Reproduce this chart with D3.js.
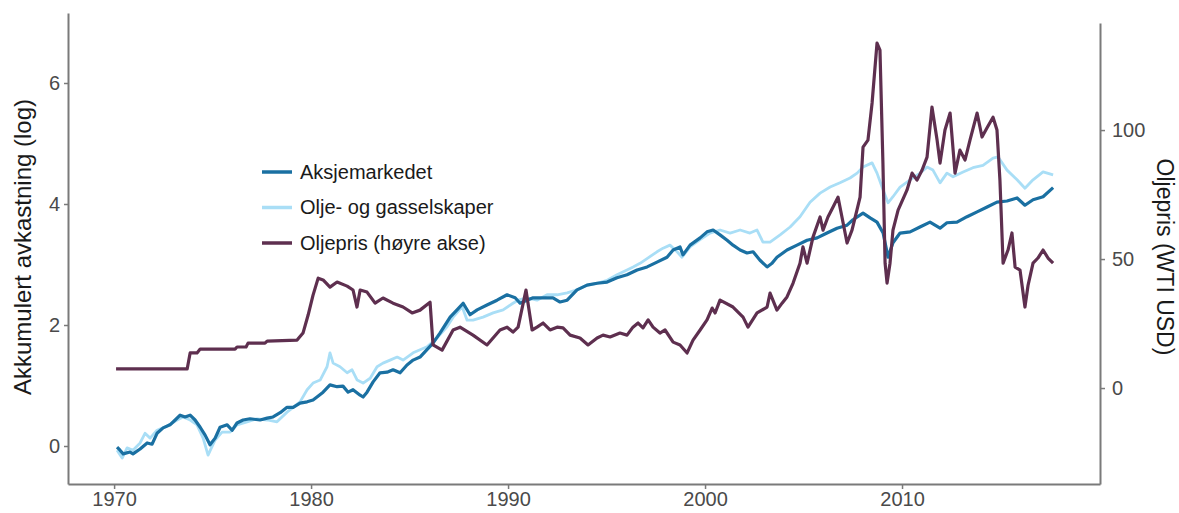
<!DOCTYPE html>
<html>
<head>
<meta charset="utf-8">
<script src="https://cdn.jsdelivr.net/npm/d3@7"></script>
<style>
  body { margin: 0; background: #fff; }
  svg { display: block; font-family: "Liberation Sans", Arial, sans-serif; }
</style>
</head>
<body>
<div id="chart"></div>
<script>
// series: Aksjemarkedet (left axis, log cumulative return)
var aksjeYears = [1970.15,1970.30,1970.46,1970.81,1970.96,1971.32,1971.68,1971.93,1972.18,1972.49,1972.84,1973.10,1973.35,1973.60,1973.86,1974.11,1974.37,1974.62,1974.87,1975.13,1975.38,1975.74,1975.99,1976.24,1976.55,1976.90,1977.41,1977.77,1978.07,1978.43,1978.78,1979.09,1979.44,1979.80,1980.10,1980.30,1980.61,1980.96,1981.32,1981.62,1981.88,1982.13,1982.49,1982.64,1982.84,1983.15,1983.50,1983.86,1984.16,1984.52,1984.87,1985.18,1985.53,1986.19,1986.55,1987.06,1987.41,1987.72,1988.07,1988.43,1988.93,1989.44,1989.95,1990.36,1990.61,1990.96,1991.27,1991.78,1992.28,1992.64,1993.00,1993.50,1994.01,1994.52,1995.03,1995.53,1996.04,1996.55,1997.06,1997.56,1998.07,1998.38,1998.73,1998.88,1999.24,1999.75,2000.10,2000.41,2000.76,2001.12,2001.42,2001.78,2002.13,2002.44,2002.79,2003.15,2003.40,2003.65,2004.16,2004.67,2005.18,2005.69,2006.19,2006.70,2007.21,2007.51,2008.02,2008.38,2008.73,2009.04,2009.29,2009.54,2009.90,2010.41,2010.91,2011.42,2011.93,2012.28,2012.79,2013.30,2013.81,2014.32,2014.82,2015.33,2015.84,2016.24,2016.65,2017.16,2017.67];
var aksjeVals = [-0.02,-0.07,-0.13,-0.10,-0.13,-0.05,0.05,0.03,0.21,0.30,0.35,0.43,0.51,0.48,0.51,0.43,0.31,0.18,0.02,0.13,0.31,0.35,0.26,0.38,0.43,0.45,0.43,0.46,0.48,0.55,0.64,0.64,0.71,0.73,0.76,0.81,0.89,1.01,0.98,0.99,0.89,0.93,0.84,0.81,0.89,1.06,1.21,1.22,1.26,1.21,1.34,1.42,1.47,1.70,1.87,2.13,2.25,2.36,2.17,2.25,2.33,2.41,2.50,2.45,2.36,2.41,2.45,2.45,2.45,2.38,2.41,2.58,2.66,2.69,2.71,2.78,2.83,2.91,2.96,3.04,3.12,3.24,3.29,3.16,3.32,3.44,3.54,3.57,3.49,3.40,3.32,3.24,3.19,3.21,3.07,2.96,3.02,3.12,3.24,3.32,3.40,3.44,3.52,3.60,3.65,3.74,3.85,3.77,3.70,3.52,3.12,3.36,3.52,3.54,3.62,3.70,3.60,3.69,3.70,3.79,3.87,3.95,4.03,4.05,4.10,3.98,4.07,4.12,4.27];

// series: Olje- og gasselskaper (left axis)
var oljeYears = [1970.15,1970.41,1970.66,1970.96,1971.32,1971.57,1971.83,1972.18,1972.69,1973.20,1973.50,1973.86,1974.21,1974.52,1974.77,1975.13,1975.48,1975.89,1976.24,1976.75,1977.26,1977.77,1978.27,1978.78,1979.09,1979.44,1979.80,1980.10,1980.46,1980.81,1980.96,1981.12,1981.47,1981.83,1982.08,1982.34,1982.64,1983.00,1983.35,1983.65,1984.01,1984.37,1984.67,1985.18,1985.89,1986.40,1986.90,1987.21,1987.67,1987.92,1988.22,1988.73,1989.24,1989.75,1990.25,1990.51,1990.96,1991.47,1991.98,1992.49,1993.00,1993.50,1994.01,1994.52,1995.03,1995.53,1996.04,1996.35,1996.70,1997.11,1997.56,1997.87,1998.22,1998.58,1998.83,1999.24,1999.75,2000.25,2000.76,2001.27,2001.78,2002.28,2002.64,2002.94,2003.30,2003.81,2004.32,2004.82,2005.33,2005.84,2006.35,2006.85,2007.36,2007.72,2008.02,2008.48,2008.73,2009.04,2009.29,2009.54,2009.90,2010.41,2010.91,2011.27,2011.57,2011.93,2012.28,2012.59,2013.10,2013.60,2014.11,2014.62,2014.87,2015.33,2015.84,2016.24,2016.65,2017.16,2017.67];
var oljeVals = [-0.07,-0.20,-0.03,-0.07,0.05,0.21,0.13,0.26,0.33,0.43,0.48,0.43,0.35,0.13,-0.15,0.10,0.23,0.23,0.35,0.40,0.45,0.43,0.40,0.56,0.64,0.73,0.93,1.04,1.09,1.31,1.54,1.37,1.31,1.21,1.26,1.09,1.04,1.12,1.31,1.37,1.42,1.47,1.42,1.54,1.64,1.79,1.97,2.13,2.30,2.08,2.08,2.13,2.20,2.25,2.36,2.41,2.45,2.41,2.50,2.50,2.53,2.58,2.66,2.69,2.74,2.83,2.91,2.96,3.02,3.11,3.21,3.27,3.32,3.21,3.12,3.29,3.41,3.52,3.57,3.52,3.57,3.52,3.57,3.37,3.37,3.49,3.62,3.79,4.03,4.18,4.28,4.35,4.43,4.51,4.61,4.68,4.51,4.23,4.02,4.12,4.28,4.40,4.51,4.61,4.56,4.35,4.51,4.45,4.53,4.60,4.64,4.76,4.78,4.56,4.40,4.26,4.40,4.53,4.48];

// series: Oljepris, WTI USD (right axis)
var prisYears = [1970.10,1973.71,1973.86,1974.21,1974.37,1976.14,1976.24,1976.70,1976.80,1977.66,1977.77,1979.29,1979.59,1979.85,1980.10,1980.36,1980.61,1980.96,1981.32,1981.83,1982.13,1982.33,1982.49,1982.84,1983.25,1983.65,1984.16,1984.67,1985.13,1985.53,1986.04,1986.19,1986.65,1987.21,1987.56,1988.22,1988.93,1989.59,1989.95,1990.25,1990.51,1990.91,1991.22,1991.47,1991.78,1992.13,1992.49,1992.79,1993.15,1993.65,1994.06,1994.52,1994.82,1995.18,1995.68,1996.04,1996.34,1996.60,1996.85,1997.11,1997.36,1997.71,1997.97,1998.38,1998.73,1999.09,1999.39,1999.75,2000.10,2000.36,2000.51,2000.76,2001.42,2001.93,2002.18,2002.64,2003.15,2003.30,2003.65,2003.91,2004.16,2004.47,2004.82,2004.97,2005.18,2005.48,2005.84,2005.99,2006.24,2006.50,2006.75,2006.95,2007.21,2007.46,2007.71,2007.87,2008.02,2008.27,2008.48,2008.73,2008.88,2009.03,2009.14,2009.24,2009.39,2009.54,2009.80,2010.25,2010.51,2010.76,2011.02,2011.27,2011.52,2011.78,2011.93,2012.18,2012.44,2012.69,2012.94,2013.20,2013.45,2013.81,2014.06,2014.31,2014.62,2014.82,2014.97,2015.13,2015.38,2015.58,2015.74,2015.99,2016.24,2016.40,2016.65,2016.90,2017.16,2017.41,2017.67];
var prisVals = [7.4,7.4,13.6,13.6,15.1,15.1,15.9,15.9,17.4,17.4,18.2,18.6,21.3,28.3,36.0,42.6,41.9,39.1,41.1,39.5,38.0,31.4,38.0,37.2,32.9,34.9,32.9,31.4,29.1,30.2,33.3,16.7,14.7,22.5,23.6,20.5,16.7,22.5,23.6,21.7,23.6,38.0,22.5,23.6,25.2,22.5,23.6,23.3,20.5,19.4,16.7,19.4,20.5,19.8,21.3,20.5,23.6,25.2,23.3,26.4,23.6,21.3,22.5,17.8,16.7,13.6,18.6,22.5,26.4,31.0,29.1,34.1,31.4,27.5,23.6,29.1,31.4,36.8,30.2,32.9,35.3,40.7,48.4,54.7,48.4,58.5,66.3,61.2,66.3,70.2,74.0,66.3,56.2,61.2,69.0,74.0,93.4,96.1,110.5,133.7,131.0,87.2,48.4,40.7,48.4,61.2,69.0,76.7,83.3,80.6,84.5,89.5,108.9,96.1,87.2,100,106.6,83.3,92.2,88.4,96.1,106.6,97.3,100.8,105.0,100,80.6,48.4,53.5,60.1,46.9,45.7,31.4,39.9,48.4,50.4,53.5,50.4,48.4];

var yearTicks = [1970, 1980, 1990, 2000, 2010];
var leftTicks = [0, 2, 4, 6];
var rightTicks = [0, 50, 100];
var legendNames = ["Aksjemarkedet", "Olje- og gasselskaper", "Oljepris (høyre akse)"];
var colors = ["#1a70a2", "#a9def6", "#5e2f4f"];

var W = 1179, H = 513;
var svg = d3.select("#chart").append("svg").attr("width", W).attr("height", H);

var x = d3.scaleLinear().domain([1967.66, 2020.05]).range([68, 1100]);
var yL = d3.scaleLinear().domain([-0.628, 7.157]).range([484, 13]);
var yR = d3.scaleLinear().domain([-37.2, 141.5]).range([484, 23]);

function styleAxis(g) {
    g.select(".domain").attr("stroke", "#7a7a7a").attr("stroke-width", 2);
    g.selectAll(".tick line").attr("stroke", "#7a7a7a").attr("stroke-width", 1.5);
    g.selectAll(".tick text").attr("fill", "#4a4a4a").style("font-size", "20px");
}

svg.append("g").attr("transform", "translate(0,484)")
    .call(d3.axisBottom(x).tickValues(yearTicks).tickFormat(d3.format("d")).tickSize(5).tickSizeOuter(0).tickPadding(3))
    .call(styleAxis);

svg.append("g").attr("transform", "translate(68,0)")
    .call(d3.axisLeft(yL).tickValues(leftTicks).tickSize(4).tickSizeOuter(0).tickPadding(4))
    .call(styleAxis);

svg.append("g").attr("transform", "translate(1100,0)")
    .call(d3.axisRight(yR).tickValues(rightTicks).tickSize(5).tickSizeOuter(0).tickPadding(7))
    .call(styleAxis);

// lines
function series(years, vals) {
    return years.map(function(d, i){ return [d, vals[i]]; });
}
var lineL = d3.line().x(function(d){ return x(d[0]); }).y(function(d){ return yL(d[1]); });
var lineR = d3.line().x(function(d){ return x(d[0]); }).y(function(d){ return yR(d[1]); });

svg.append("path").datum(series(oljeYears, oljeVals))
    .attr("d", lineL).attr("fill", "none").attr("stroke", colors[1]).attr("stroke-width", 2.8).attr("stroke-linejoin", "round");
svg.append("path").datum(series(aksjeYears, aksjeVals))
    .attr("d", lineL).attr("fill", "none").attr("stroke", colors[0]).attr("stroke-width", 3.2).attr("stroke-linejoin", "round");
svg.append("path").datum(series(prisYears, prisVals))
    .attr("d", lineR).attr("fill", "none").attr("stroke", colors[2]).attr("stroke-width", 3.2).attr("stroke-linejoin", "round");

// axis titles
svg.append("text")
    .attr("transform", "translate(31,247) rotate(-90)")
    .attr("text-anchor", "middle")
    .attr("fill", "#1a1a1a")
    .style("font-size", "24px")
    .text("Akkumulert avkastning (log)");

svg.append("text")
    .attr("transform", "translate(1157,257) rotate(90)")
    .attr("text-anchor", "middle")
    .attr("fill", "#1a1a1a")
    .style("font-size", "23px")
    .text("Oljepris (WTI USD)");

// legend
var legend = svg.append("g");
legendNames.forEach(function(name, i){
    var cy = 172 + i * 35.5;
    legend.append("line")
        .attr("x1", 262).attr("x2", 292).attr("y1", cy).attr("y2", cy)
        .attr("stroke", colors[i]).attr("stroke-width", 3.5);
    legend.append("text")
        .attr("x", 300).attr("y", cy + 6.5)
        .attr("fill", "#1a1a1a")
        .style("font-size", "20px")
        .text(name);
});
</script>
</body>
</html>
